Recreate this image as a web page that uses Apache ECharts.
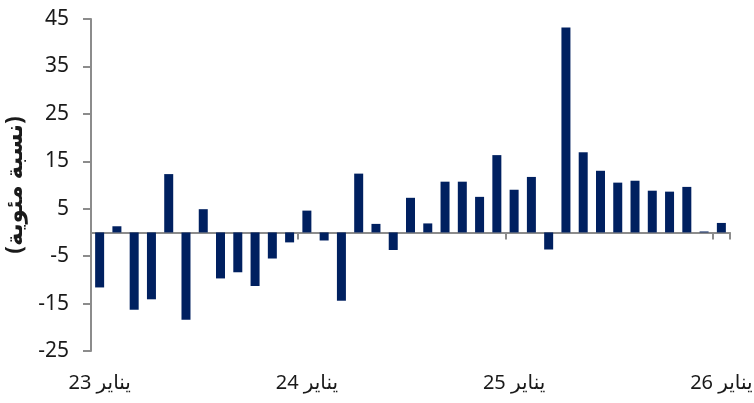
<!DOCTYPE html>
<head>
	<title>chart</title>
	<meta http-equiv="Content-Type" content="text/html; charset=utf-8" />
	<script src="https://cdn.jsdelivr.net/npm/echarts@6/dist/echarts.min.js"></script>
	<style>
		html, body { margin: 0; padding: 0; background: #fff; }
		#chart { width: 754px; height: 403px; }
	</style>
</head>
<body>
	<div id="chart"></div>
</body>
<script type="text/javascript">
	var monthNames = ["يناير", "فبراير", "مارس", "أبريل", "مايو", "يونيو", "يوليو", "أغسطس", "سبتمبر", "أكتوبر", "نوفمبر", "ديسمبر"];
	var years = ["23", "24", "25", "26"];
	var values = [-11.6, 1.3, -16.3, -14.1, 12.3, -18.4, 4.9, -9.7, -8.4, -11.3, -5.5, -2.1,
		4.6, -1.7, -14.4, 12.4, 1.8, -3.7, 7.3, 1.9, 10.7, 10.7, 7.5, 16.3,
		9.0, 11.7, -3.6, 43.2, 16.9, 13.0, 10.5, 10.9, 8.8, 8.6, 9.6, 0.2,
		2.0];
	var yTicks = { min: -25, max: 45, interval: 10 };
	var yName = "(نسبة مئوية)";

	var categories = [];
	for (var i = 0; i < values.length; i++) {
		categories.push(monthNames[i % 12] + " " + years[Math.floor(i / 12)]);
	}

	var font = "'Noto Sans', 'DejaVu Sans', sans-serif";
	var axisColor = "#8c8c8c";
	var myChart = echarts.init(document.getElementById("chart"));
	var option = {
		animation: false,
		grid: { left: 91, right: 24, top: 19, bottom: 52, containLabel: false, outerBoundsMode: "none" },
		xAxis: [
			{
				type: "category",
				data: categories,
				position: "bottom",
				axisLine: { onZero: true, lineStyle: { color: axisColor, width: 2 } },
				axisTick: { show: true, interval: 11, length: 7, lineStyle: { color: axisColor, width: 2 } },
				axisLabel: { show: false },
				splitLine: { show: false }
			},
			{
				type: "category",
				data: categories,
				position: "bottom",
				axisLine: { show: false, onZero: false },
				axisTick: { show: false },
				axisLabel: {
					interval: 11,
					margin: 22,
					color: "#1a1a1a",
					fontSize: 20,
					fontFamily: font
				},
				splitLine: { show: false }
			}
		],
		yAxis: {
			type: "value",
			min: yTicks.min,
			max: yTicks.max,
			interval: yTicks.interval,
			name: yName,
			nameLocation: "middle",
			nameRotate: 90,
			nameGap: 61,
			nameTextStyle: { color: "#1a1a1a", fontSize: 23, fontWeight: "bold", fontFamily: font },
			axisLine: { show: true, lineStyle: { color: axisColor, width: 2 } },
			axisTick: { show: true, length: 8, lineStyle: { color: axisColor, width: 2 } },
			axisLabel: { color: "#1a1a1a", fontSize: 21, margin: 22, fontFamily: font },
			splitLine: { show: false }
		},
		series: [{
			type: "bar",
			xAxisIndex: 0,
			data: values,
			barWidth: 9,
			itemStyle: { color: "#002060" }
		}]
	};
	myChart.setOption(option);
</script>
</html>
